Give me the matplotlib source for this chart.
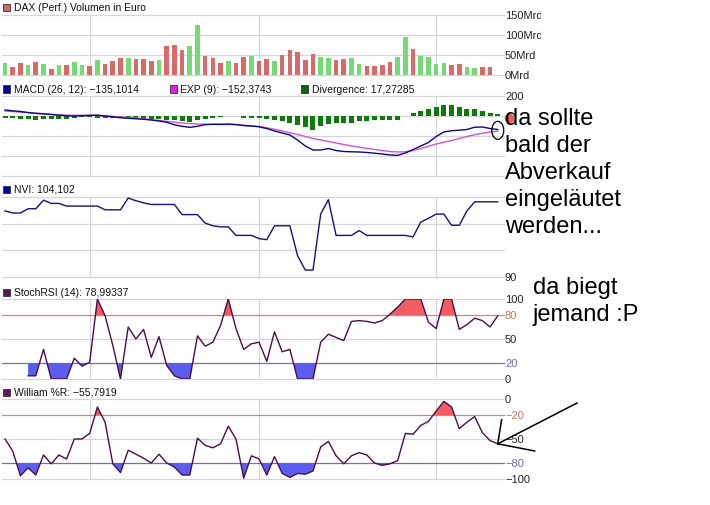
import numpy as np
import matplotlib.pyplot as plt
from matplotlib.patches import Rectangle, Ellipse

plt.rcParams['font.family'] = ['Liberation Sans', 'DejaVu Sans']

# volume in Mrd Euro (no volume yet for the last day), 1 = up day (green)
vol = [30, 20, 30, 25, 32, 27, 15, 25, 25, 32, 25, 22, 37, 27, 35, 42, 42, 40, 40, 35,
       37, 72, 75, 62, 72, 125, 47, 42, 30, 35, 30, 45, 47, 35, 40, 35, 50, 62, 57, 37,
       52, 45, 42, 37, 40, 42, 27, 22, 22, 25, 32, 45, 95, 65, 47, 45, 27, 30, 25, 27,
       20, 17, 20, 20]
vol_up = [1, 0, 0, 1, 0, 1, 0, 1, 0, 1, 1, 0, 1, 0, 0, 0, 1, 0, 0, 0,
          1, 0, 0, 0, 1, 1, 0, 0, 0, 1, 0, 0, 1, 0, 0, 1, 0, 0, 0, 0,
          0, 1, 1, 0, 0, 1, 1, 0, 0, 0, 0, 1, 1, 0, 1, 1, 1, 1, 0, 0,
          1, 1, 0, 0]
macd = [60, 52, 45, 35, 27, 22, 15, 8, 2, 0, 2, 6, 8, 0, -8, -18, -23, -28, -33, -40,
        -50, -63, -88, -103, -113, -103, -86, -83, -83, -80, -86, -96, -100, -108, -126,
        -150, -170, -190, -240, -300, -340, -340, -325, -345, -355, -358, -360, -365, -372,
        -380, -390, -393, -370, -335, -300, -265, -205, -160, -147, -142, -135, -112, -110,
        -125, -135]
exp9 = [50, 45, 39, 33, 27, 22, 17, 12, 8, 7, 7, 7, 7, 2, -4, -10, -15, -20, -28, -36,
        -45, -53, -62, -70, -76, -80, -83, -84, -85, -86, -86, -92, -100, -105, -118,
        -133, -150, -168, -185, -205, -225, -240, -255, -270, -285, -300, -312, -323, -335,
        -345, -355, -360, -358, -345, -325, -302, -280, -262, -245, -225, -205, -187, -172,
        -160, -152]
diverg = [-20, -20, -27, -33, -40, -33, -33, -33, -27, -20, -12, -5, -15, -15, -15, -20,
          -20, -27, -27, -33, -33, -40, -40, -53, -60, -40, -27, -18, -12, 0, 0, -15, -15,
          -15, -33, -40, -53, -73, -93, -107, -140, -100, -80, -73, -73, -67, -53, -47, -40,
          -40, -40, -40, 0, 33, 47, 73, 93, 107, 107, 87, 73, 67, 47, 27, 20]
nvi = [102.4, 102.0, 102.0, 102.8, 102.8, 104.4, 103.8, 103.8, 103.3, 103.3, 103.3, 103.3,
       103.3, 102.6, 102.6, 102.6, 104.8, 104.3, 103.9, 103.6, 103.6, 103.6, 103.6, 101.7,
       101.7, 101.7, 100.1, 99.6, 99.4, 99.4, 97.8, 97.8, 97.8, 97.2, 97.0, 99.6, 99.6,
       99.6, 94.0, 91.3, 91.3, 101.8, 104.5, 97.8, 97.8, 97.8, 98.7, 97.8, 97.8, 97.8, 97.8,
       97.8, 97.8, 97.5, 100.3, 101.0, 101.8, 101.8, 99.7, 99.7, 102.4, 104.1, 104.1, 104.1,
       104.1]
stoch = [np.nan, np.nan, np.nan, 4, 4, 37, 0, 0, 0, 26, 16, 21, 100, 79, 42, 0, 65, 50, 62,
         27, 53, 17, 4, 0, 0, 54, 41, 46, 67, 100, 63, 37, 44, 46, 22, 59, 34, 37, 0, 0, 0,
         46, 56, 52, 48, 72, 73, 72, 70, 73, 81, 90, 100, 100, 100, 71, 63, 100, 100, 62, 68,
         76, 73, 65, 79]
will = [-50, -65, -96, -86, -95, -70, -81, -70, -75, -50, -50, -43, -10, -29, -81, -92, -64,
        -69, -74, -80, -69, -80, -85, -95, -95, -49, -58, -61, -56, -34, -50, -99, -71, -75,
        -95, -72, -93, -98, -93, -94, -90, -60, -53, -71, -81, -71, -67, -70, -80, -83, -81,
        -77, -43, -44, -33, -28, -15, -3, -10, -37, -29, -22, -42, -52, -56]
month_starts = [11, 33, 56]

W, H = 710, 506
grid_c = '#d6d6d6'
red_fill = '#f25c62'
blue_fill = '#5c5cf0'
ind_c = '#4a0f4a'

x = np.arange(len(macd))

fig = plt.figure(figsize=(W / 100, H / 100), dpi=100)


def px(xp, yp):
    return (xp / W, 1 - yp / H)


def panel(top, bottom, ylim, ticks, labels, colors=None):
    ax = fig.add_axes([2 / W, 1 - bottom / H, 499 / W, (bottom - top) / H])
    ax.set_xlim(-0.39, 64.42)
    ax.set_ylim(*ylim)
    for s in ax.spines.values():
        s.set_visible(False)
    ax.set_xticks([])
    ax.set_yticks([])
    for m in month_starts:
        ax.axvline(m, color=grid_c, lw=0.8, zorder=0)
    for i, t in enumerate(ticks):
        c = colors[i] if colors else grid_c
        ax.axhline(t, xmax=1.007, color=c, lw=0.9, clip_on=False, zorder=0.5)
        if labels[i]:
            tc = '#222222' if c == grid_c else c
            ax.text(1.008, t, labels[i], transform=ax.get_yaxis_transform(),
                    fontsize=8, va='center', ha='left', color=tc)
    return ax


def header(xp, yp, color, label):
    fig.add_artist(Rectangle(px(xp, yp + 3.5), 7 / W, 7 / H, facecolor=color,
                             edgecolor='#333333', lw=0.6))
    fig.text(*px(xp + 10.5, yp), label, fontsize=7.5, va='center', ha='left', color='#111111')


# volume
ax1 = panel(16, 76, (0, 150), [0, 50, 100, 150], ['0Mrd', '50Mrd', '100Mrd', '150Mrd'])
bar_cols = ['#77d877' if u else '#d96a6a' for u in vol_up]
ax1.bar(x[:len(vol)], vol, width=0.6, color=bar_cols, zorder=2)
header(3, 8, '#d06a6a', 'DAX (Perf.) Volumen in Euro')

# MACD
ax2 = panel(97, 177, (-600, 200), [200, 0, -200, -400, -600], ['200', '', '', '', ''])
ax2.bar(x, diverg, width=0.65, color='#0e7a0e', zorder=2)
ax2.plot(x, exp9, color='#d452d4', lw=1.0, zorder=3)
ax2.plot(x, macd, color='#0a0a78', lw=1.0, zorder=4)
ax2.add_patch(Ellipse((x[-1], (macd[-1] + exp9[-1]) / 2), 1.55, 180, fill=False,
                      edgecolor='black', lw=0.9, clip_on=False, zorder=6))
ax2.plot([65.5], [-20], 'o', color='#f05a5a', markersize=6, clip_on=False, zorder=6)
header(3, 90, '#000099', 'MACD (26, 12): \u2212135,1014')
header(170, 90, '#dd22dd', 'EXP (9): \u2212152,3743')
header(301, 90, '#106610', 'Divergence: 17,27285')

# NVI
ax3 = panel(198, 278, (90, 105), [105, 100, 95, 90], ['', '', '', '90'])
ax3.plot(x, nvi, color='#14147a', lw=1.0, zorder=3)
header(3, 190, '#0000aa', 'NVI: 104,102')

# StochRSI
s = np.array(stoch, dtype=float)
ok = ~np.isnan(s)
ax4 = panel(300, 380, (0, 100), [100, 80, 50, 20, 0], ['100', '80', '50', '20', '0'],
            [grid_c, '#d98080', grid_c, '#7070b8', grid_c])
ax4.texts[1].set_color('#c07a60')
ax4.texts[3].set_color('#6a6aaa')
ax4.fill_between(x[ok], s[ok], 80, where=s[ok] >= 80, interpolate=True, color=red_fill, lw=0, zorder=2)
ax4.fill_between(x[ok], s[ok], 20, where=s[ok] <= 20, interpolate=True, color=blue_fill, lw=0, zorder=2)
ax4.plot(x[ok], s[ok], color=ind_c, lw=1.0, zorder=3)
header(3, 293, '#5a1a5a', 'StochRSI (14): 78,99337')

# Williams %R
w = np.array(will, dtype=float)
ax5 = panel(400, 480, (-100, 0), [0, -20, -50, -80, -100],
            ['0', '\u221220', '\u221250', '\u221280', '\u2212100'],
            [grid_c, '#d98080', grid_c, '#7070b8', grid_c])
ax5.texts[1].set_color('#c07a60')
ax5.texts[3].set_color('#6a6aaa')
ax5.fill_between(x, w, -20, where=w >= -20, interpolate=True, color=red_fill, lw=0, zorder=2)
ax5.fill_between(x, w, -80, where=w <= -80, interpolate=True, color=blue_fill, lw=0, zorder=2)
ax5.plot(x, w, color=ind_c, lw=1.0, zorder=3)
for tx, ty in [(64.5, -26), (74.3, -5), (68.8, -65)]:
    ax5.plot([x[-1], tx], [will[-1], ty], color='black', lw=1.1, clip_on=False, zorder=6)
header(3, 393, '#6a106a', 'William %R: \u221255,7919')

# the pasted chart ends at x=541
fig.add_artist(Rectangle(px(541, 88), (W - 541) / W, 88 / H, facecolor='white',
                         edgecolor='none', zorder=10))

for i, line in enumerate(['da sollte', 'bald der', 'Abverkauf', 'eingel\u00e4utet', 'werden...']):
    fig.text(*px(505, 125 + 27 * i), line, fontsize=17, va='baseline', ha='left', color='black')
fig.text(*px(533, 294), 'da biegt', fontsize=17, va='baseline', ha='left', color='black')
fig.text(*px(533, 321.5), 'jemand :P', fontsize=17, va='baseline', ha='left', color='black')

fig.savefig('out.png', dpi=100, facecolor='white')
